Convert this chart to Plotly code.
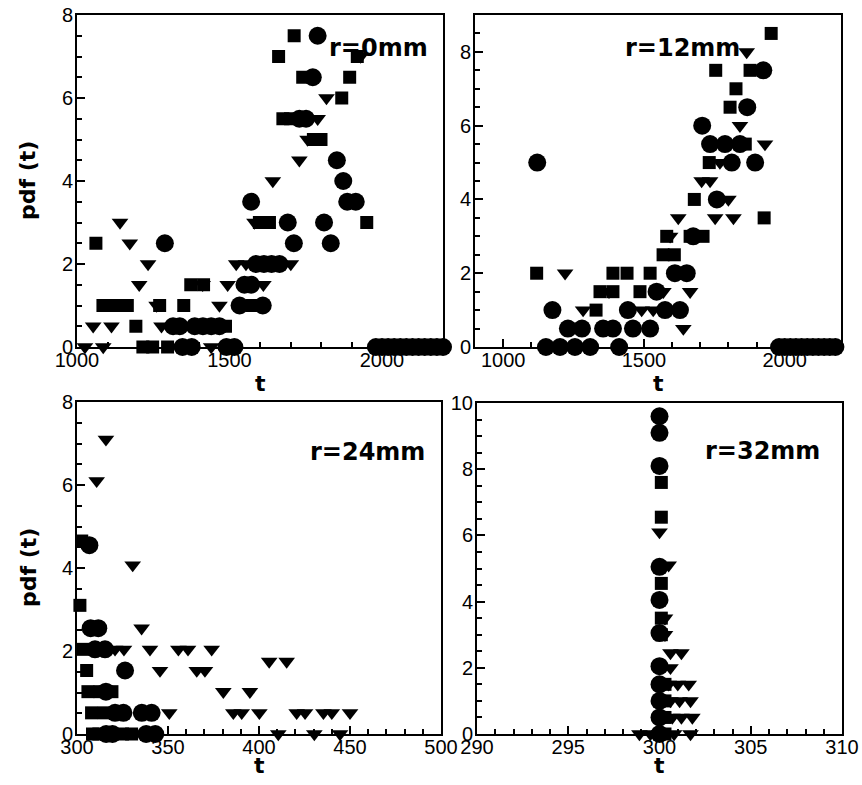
import plotly.graph_objects as go

# ---------------- r = 0 mm ----------------
r0_sq_t = [1062, 1085, 1125, 1165, 1193, 1216, 1248, 1297, 1271, 1350, 1373, 1415, 1487, 1575, 1598, 1631,
           1661, 1675, 1700, 1712, 1740, 1775, 1800, 1868, 1894, 1919, 1950]
r0_sq_pdf = [2.5, 1, 1, 1, 0.5, 0, 0, 0, 1, 1, 1.5, 1.5, 0.5, 1, 3, 3,
             7, 5.5, 5.5, 7.5, 6.5, 5, 5, 6, 6.5, 7, 3]
r0_ci_t = [1288, 1315, 1337, 1386, 1413, 1440, 1467, 1346, 1376, 1490, 1516, 1533, 1609, 1549, 1571,
           1587, 1613, 1638, 1664, 1571, 1691, 1810, 1711, 1832, 1789, 1773, 1729, 1751, 1852, 1873,
           1886, 1914, 1980, 2000, 2020, 2040, 2060, 2080, 2100, 2120, 2140, 2160, 2180, 2200]
r0_ci_pdf = [2.5, 0.5, 0.5, 0.5, 0.5, 0.5, 0.5, 0, 0, 0, 0, 1, 1, 1.5, 1.5,
             2, 2, 2, 2, 3.5, 3, 3, 2.5, 2.5, 7.5, 6.5, 5.5, 5.5, 4.5, 4,
             3.5, 3.5, 0, 0, 0, 0, 0, 0, 0, 0, 0, 0, 0, 0]
r0_tr_t = [1026, 1086, 1053, 1113, 1141, 1173, 1204, 1233, 1261, 1277, 1412, 1440, 1467, 1494, 1522,
           1554, 1582, 1611, 1642, 1701, 1729, 1756, 1789, 1818, 1930]
r0_tr_pdf = [0, 0, 0.5, 0.5, 3, 2.5, 1.5, 2, 1, 0.5, 1.5, 0, 1, 1.5, 2,
             2, 3, 1.5, 4, 2, 4.5, 5, 5.5, 6, 7]

# ---------------- r = 12 mm ----------------
r12_sq_t = [1119, 1330, 1344, 1390, 1390, 1440, 1486, 1522, 1568, 1608, 1581, 1664, 1710, 1679, 1732,
            1755, 1877, 1806, 1827, 1860, 1927, 1952]
r12_sq_pdf = [2, 1, 1.5, 1.5, 2, 2, 1.5, 2, 2.5, 2.5, 3, 3, 3, 4, 5,
              7.5, 7.5, 6.5, 7, 5.5, 3.5, 8.5]
r12_ci_t = [1121, 1175, 1152, 1202, 1255, 1309, 1412, 1230, 1280, 1355, 1390, 1461, 1522, 1443, 1575,
            1628, 1545, 1610, 1652, 1675, 1707, 1735, 1788, 1841, 1812, 1895, 1759, 1867, 1924,
            1980, 2000, 2020, 2040, 2060, 2080, 2100, 2120, 2140, 2160, 2180]
r12_ci_pdf = [5, 1, 0, 0, 0, 0, 0, 0.5, 0.5, 0.5, 0.5, 0.5, 0.5, 1, 1,
              1, 1.5, 2, 2, 3, 6, 5.5, 5.5, 5.5, 5, 5, 4, 6.5, 7.5,
              0, 0, 0, 0, 0, 0, 0, 0, 0, 0, 0]
r12_tr_t = [1220, 1284, 1376, 1492, 1533, 1569, 1593, 1622, 1640, 1664, 1705, 1735, 1753, 1818, 1800,
            1770, 1841, 1930, 1865]
r12_tr_pdf = [2, 1, 1.5, 1, 1, 1.5, 3, 3.5, 0.5, 1.5, 4.5, 4.5, 3.5, 3.5, 4,
              5, 6, 5.5, 8]

# ---------------- r = 24 mm ----------------
r24_sq_t = [302.6, 301.6, 303.5, 305.3, 306, 312.6, 319.2, 308, 315, 308.5, 312, 325, 330]
r24_sq_pdf = [4.65, 3.1, 2.04, 1.53, 1.02, 1.02, 1.02, 0.51, 0.51, 0, 0, 0, 0]
r24_ci_t = [306.8, 307.5, 311.7, 309.9, 315.4, 326.4, 315.9, 320.9, 325.5, 335.6, 341, 316, 319.5, 338, 343]
r24_ci_pdf = [4.55, 2.55, 2.55, 2.04, 2.04, 1.53, 1.02, 0.51, 0.51, 0.51, 0.51, 0, 0, 0, 0]
r24_tr_t = [315.9, 310.8, 330.6, 335.5, 320.9, 325.8, 340.1, 355.7, 361, 374, 345.6, 365.8, 370.3,
            380.4, 395, 405.6, 415.2, 350.7, 385.9, 390.5, 400.2, 420.7, 425.3, 435.4, 440, 450,
            410.6, 430.4, 444.5]
r24_tr_pdf = [7.1, 6.1, 4.07, 2.55, 2.04, 2.04, 2.04, 2.04, 2.04, 2.04, 1.53, 1.53, 1.53,
              1.02, 1.02, 1.75, 1.75, 0.51, 0.51, 0.51, 0.51, 0.51, 0.51, 0.51, 0.51, 0.51,
              0, 0, 0]

# ---------------- r = 32 mm ----------------
r32_sq_t = [300.1, 300.1, 300.1, 300.1, 300.1, 300.3, 300.3, 300.3, 300.3]
r32_sq_pdf = [7.6, 6.55, 4.55, 3.5, 3.0, 1.5, 1.0, 0.5, 0]
r32_ci_t = [300, 300, 300, 300, 300, 300, 300, 300, 300, 300, 300]
r32_ci_pdf = [9.6, 9.1, 8.1, 5.05, 4.05, 3.05, 2.05, 1.5, 1.0, 0.5, 0]
r32_tr_t = [300, 300.5, 300.3, 300.3, 300.6, 301.2, 300.6, 300.5, 301.0, 301.6, 300.6, 301.1, 301.7,
            300.7, 301.2, 301.8, 298.9, 299.5, 300.0, 300.8, 301.7]
r32_tr_pdf = [6.1, 5.1, 3.5, 3.0, 2.45, 2.45, 2.0, 1.5, 1.5, 1.5, 1.0, 1.0, 1.0,
              0.5, 0.5, 0.5, 0, 0, 0, 0, 0]

panel_labels = ["r=0mm", "r=12mm", "r=24mm", "r=32mm"]
x_title = "t"
y_title = "pdf (t)"

W, H = 862, 785
TICK_FONT = dict(family="Arial, Liberation Sans, sans-serif", size=20, color="black")
BOLD_FONT = "DejaVu Sans, sans-serif"

panels = [
    dict(sq=(r0_sq_t, r0_sq_pdf), ci=(r0_ci_t, r0_ci_pdf), tr=(r0_tr_t, r0_tr_pdf)),
    dict(sq=(r12_sq_t, r12_sq_pdf), ci=(r12_ci_t, r12_ci_pdf), tr=(r12_tr_t, r12_tr_pdf)),
    dict(sq=(r24_sq_t, r24_sq_pdf), ci=(r24_ci_t, r24_ci_pdf), tr=(r24_tr_t, r24_tr_pdf)),
    dict(sq=(r32_sq_t, r32_sq_pdf), ci=(r32_ci_t, r32_ci_pdf), tr=(r32_tr_t, r32_tr_pdf)),
]

# pixel boxes of plot areas: (left, right, top, bottom)
boxes = [(77, 443, 15, 347), (475, 841, 15, 347), (77, 441, 402, 734), (477, 842, 403, 734)]
xranges = [[1000, 2200], [900, 2200], [300, 500], [290, 310]]
xdt = [500, 500, 50, 5]
xminor = [100, 100, 10, 1]
xtick0 = [1000, 1000, 300, 290]
yranges = [[0, 8], [0, 9], [0, 8], [0, 10]]

fig = go.Figure()
for i, p in enumerate(panels):
    sfx = "" if i == 0 else str(i + 1)
    xa, ya = "x" + sfx, "y" + sfx
    for key, sym, size in [("sq", "square", 13), ("tr", "triangle-down", 14.5), ("ci", "circle", 18)]:
        tt, vv = p[key]
        fig.add_trace(go.Scatter(
            x=tt, y=vv, mode="markers", xaxis=xa, yaxis=ya, showlegend=False, cliponaxis=False,
            marker=dict(symbol=sym, size=size, color="black", line=dict(width=0)),
        ))
    l, r, t, b = boxes[i]
    axcommon = dict(showline=True, linecolor="black", linewidth=2, mirror=True, showgrid=False,
                    zeroline=False, ticks="inside", ticklen=8, tickwidth=1.5, tickcolor="black",
                    tickfont=TICK_FONT, automargin=False)
    fig.layout["xaxis" + sfx] = dict(
        domain=[l / W, r / W], range=xranges[i], anchor=ya, tickmode="linear", tick0=xtick0[i],
        dtick=xdt[i], ticklabelstandoff=-6,
        minor=dict(dtick=xminor[i], ticks="inside", ticklen=5, tickwidth=1.5,
                   tickcolor="black", tick0=xtick0[i]),
        **axcommon)
    fig.layout["yaxis" + sfx] = dict(
        domain=[1 - b / H, 1 - t / H], range=yranges[i], anchor=xa, tickmode="linear", tick0=0,
        dtick=2, ticklabelstandoff=-2,
        minor=dict(dtick=0.5, ticks="inside", ticklen=5, tickwidth=1.5, tickcolor="black"),
        **axcommon)

annotations = []
label_pos = [(430, 48), (742, 48), (427, 452), (822, 451)]
for (px, py), txt in zip(label_pos, panel_labels):
    annotations.append(dict(x=px / W, y=1 - py / H, xref="paper", yref="paper", text="<b>%s</b>" % txt,
                            showarrow=False, xanchor="right", yanchor="middle",
                            font=dict(family=BOLD_FONT, size=24, color="black")))
for (px, py) in [(260, 383), (658, 383), (259, 765), (659.5, 765)]:
    annotations.append(dict(x=px / W, y=1 - py / H, xref="paper", yref="paper", text="<b>%s</b>" % x_title,
                            showarrow=False, xanchor="center", yanchor="middle",
                            font=dict(family=BOLD_FONT, size=22, color="black")))
for (px, py) in [(28, 181), (28, 568)]:
    annotations.append(dict(x=px / W, y=1 - py / H, xref="paper", yref="paper", text="<b>%s</b>" % y_title,
                            showarrow=False, xanchor="center", yanchor="middle", textangle=-90,
                            font=dict(family=BOLD_FONT, size=22, color="black")))

fig.update_layout(template="none", width=W, height=H, margin=dict(l=0, r=0, t=0, b=0),
                  plot_bgcolor="white", paper_bgcolor="white", annotations=annotations,
                  showlegend=False)

fig.write_html("out.html")
